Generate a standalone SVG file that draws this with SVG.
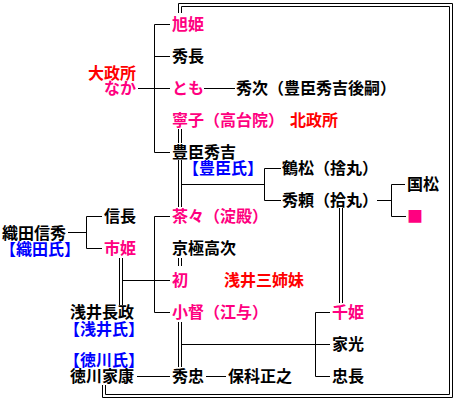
<svg xmlns="http://www.w3.org/2000/svg" width="460" height="400" viewBox="0 0 460 400">
<style>
text{font-family:"Noto Sans CJK JP","Noto Sans CJK SC",sans-serif;font-size:16px;font-weight:bold;fill:#000}
.p{fill:#ff0080}
.r{fill:#ff0000}
.b{fill:#0000ff}
.e{text-anchor:end}
#connectors path{fill:none;stroke:#000;stroke-width:1}
</style>
<rect width="460" height="400" fill="#fff"/>
<g id="connectors">
<path d="M102.5 385V397.5H452.5V3.5H178.5V13"/>
<path d="M105.5 385V394.5H449.5V6.5H181.5V13"/>
<path d="M154.5 24.5V152.5M154.5 24.5H170M154.5 56.5H170M138 88.5H170M154.5 152.5H170"/>
<path d="M204 88.5H235"/>
<path d="M178.5 129V143M181.5 129V143"/>
<path d="M178.5 160V207M181.5 160V207"/>
<path d="M181.5 184.5H264.5M264.5 168.5V200.5M264.5 168.5H281M264.5 200.5H281"/>
<path d="M377 200.5H391.5M391.5 184.5V216.5M391.5 184.5H405M391.5 216.5H406"/>
<path d="M339.5 208V303M342.5 208V303"/>
<path d="M68 232.5H86.5M86.5 216.5V248.5M86.5 216.5H102M86.5 248.5H102"/>
<path d="M119.5 258V305M122.5 258V305"/>
<path d="M122.5 280.5H170"/>
<path d="M154.5 216.5V312.5M154.5 216.5H170M154.5 312.5H170"/>
<path d="M178.5 258V266M181.5 258V266"/>
<path d="M178.5 322V367M181.5 322V367"/>
<path d="M181.5 344.5H330"/>
<path d="M315.5 312.5V376.5M315.5 312.5H330M315.5 376.5H330"/>
<path d="M137 376.5H170M206 376.5H226"/>
</g>
<g id="omandokoro"><text class="e"><tspan class="r" x="136" y="79">大政所</tspan><tspan class="p" x="136" y="94">なか</tspan></text></g>
<g id="asahi"><text class="p" x="172" y="30">旭姫</text></g>
<g id="hidenaga"><text x="172" y="62">秀長</text></g>
<g id="tomo"><text class="p" x="172" y="94">とも</text></g>
<g id="hidetsugu"><text x="236" y="94">秀次（豊臣秀吉後嗣）</text></g>
<g id="nene"><text class="p" x="172" y="126">寧子（高台院）</text><text class="r" x="290" y="126">北政所</text></g>
<g id="hideyoshi"><text><tspan x="172" y="158">豊臣秀吉</tspan><tspan class="b" x="183" y="174">【豊臣氏】</tspan></text></g>
<g id="tsurumatsu"><text x="282" y="174">鶴松（捨丸）</text></g>
<g id="hideyori"><text x="282" y="206">秀頼（拾丸）</text></g>
<g id="kunimatsu"><text x="407" y="190">国松</text></g>
<g id="daughter"><text class="p" x="407" y="222">■</text></g>
<g id="nobuhide"><text><tspan x="2" y="239">織田信秀</tspan><tspan class="b" x="0" y="255">【織田氏】</tspan></text></g>
<g id="nobunaga"><text x="104" y="222">信長</text></g>
<g id="ichi"><text class="p" x="104" y="254">市姫</text></g>
<g id="nagamasa"><text><tspan x="70" y="318">浅井長政</tspan><tspan class="b" x="64" y="335">【浅井氏】</tspan></text></g>
<g id="chacha"><text class="p" x="172" y="222">茶々（淀殿）</text></g>
<g id="takatsugu"><text x="172" y="254">京極高次</text></g>
<g id="hatsu"><text class="p" x="172" y="286">初</text><text class="r" x="224" y="286">浅井三姉妹</text></g>
<g id="go"><text class="p" x="172" y="318">小督（江与）</text></g>
<g id="ieyasu"><text><tspan class="b" x="64" y="366">【徳川氏】</tspan><tspan x="70" y="382">徳川家康</tspan></text></g>
<g id="hidetada"><text x="172" y="382">秀忠</text></g>
<g id="masayuki"><text x="228" y="382">保科正之</text></g>
<g id="senhime"><text class="p" x="332" y="318">千姫</text></g>
<g id="iemitsu"><text x="332" y="350">家光</text></g>
<g id="tadanaga"><text x="332" y="382">忠長</text></g>
</svg>
